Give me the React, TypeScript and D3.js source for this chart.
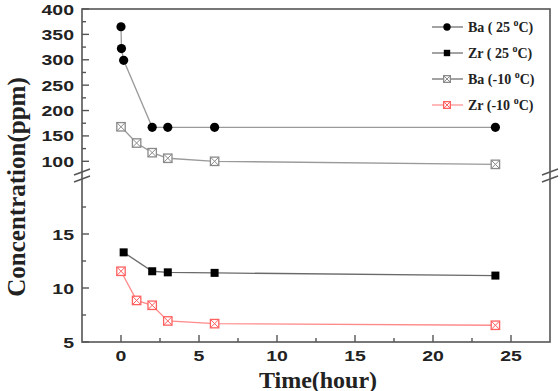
import { useEffect, useRef } from "react";
import * as d3 from "d3";

// Ba (25 °C) — upper panel
const baHotTime = [0, 0.03, 0.17, 2, 3, 6, 24];
const baHotConc = [365, 322, 299, 167, 167, 167, 167];
// Ba (-10 °C) — upper panel
const baColdTime = [0, 1, 2, 3, 6, 24];
const baColdConc = [168, 136, 117, 106, 100, 94];
// Zr (25 °C) — lower panel
const zrHotTime = [0.17, 2, 3, 6, 24];
const zrHotConc = [13.3, 11.55, 11.45, 11.4, 11.15];
// Zr (-10 °C) — lower panel
const zrColdTime = [0, 1, 2, 3, 6, 24];
const zrColdConc = [11.55, 8.85, 8.4, 6.95, 6.7, 6.55];

const xTicks = [0, 5, 10, 15, 20, 25];
const upperTicks = [100, 150, 200, 250, 300, 350, 400];
const lowerTicks = [5, 10, 15];

const legendLabels = [
  { name: "Ba ( 25 ", tail: "C)" },
  { name: "Zr ( 25 ", tail: "C)" },
  { name: "Ba (-10 ", tail: "C)" },
  { name: "Zr (-10 ", tail: "C)" },
];

const W = 560;
const H = 391;
const left = 82;
const right = 550;
const top = 9;
const bottom = 342;

export default function App() {
  const ref = useRef<SVGSVGElement | null>(null);

  useEffect(() => {
    const svg = d3.select(ref.current);
    svg.selectAll("*").remove();

    const x = d3.scaleLinear().domain([-2.5, 27.5]).range([left, right]);
    const yUp = d3.scaleLinear().domain([75, 400]).range([174, top]);
    const yLo = d3.scaleLinear().domain([5, 20]).range([bottom, 180]);

    const axisColor = "#555";
    const tickFont = "'Liberation Sans', Arial, sans-serif";
    const serif = "'Liberation Serif', 'Times New Roman', serif";

    const g = svg.append("g");

    // series definitions
    const series = [
      { t: baHotTime, v: baHotConc, y: yUp, line: "#9a9a9a", color: "#000", shape: "circle" },
      { t: zrHotTime, v: zrHotConc, y: yLo, line: "#6a6a6a", color: "#000", shape: "square" },
      { t: baColdTime, v: baColdConc, y: yUp, line: "#9a9a9a", color: "#8a8a8a", shape: "cross" },
      { t: zrColdTime, v: zrColdConc, y: yLo, line: "#ff8a8a", color: "#ff6060", shape: "cross" },
    ];

    const drawMarker = (sel: any, cx: number, cy: number, s: any, k: number) => {
      if (s.shape === "circle") {
        sel.append("circle").attr("cx", cx).attr("cy", cy).attr("r", 4.6 * k).attr("fill", s.color);
      } else if (s.shape === "square") {
        const h = 4 * k;
        sel.append("rect").attr("x", cx - h).attr("y", cy - h).attr("width", 2 * h).attr("height", 2 * h).attr("fill", s.color);
      } else {
        const h = 4.2 * k;
        sel.append("rect").attr("x", cx - h).attr("y", cy - h).attr("width", 2 * h).attr("height", 2 * h)
          .attr("fill", "#fff").attr("stroke", s.color).attr("stroke-width", 1.3);
        sel.append("path")
          .attr("d", `M${cx - h},${cy - h}L${cx + h},${cy + h}M${cx + h},${cy - h}L${cx - h},${cy + h}`)
          .attr("stroke", s.color).attr("stroke-width", 1);
      }
    };

    series.forEach((s) => {
      const pts = s.t.map((t, i) => [x(t), s.y(s.v[i])] as [number, number]);
      g.append("path")
        .attr("d", d3.line()(pts))
        .attr("fill", "none")
        .attr("stroke", s.line)
        .attr("stroke-width", 1.3);
    });
    series.forEach((s) => {
      s.t.forEach((t, i) => drawMarker(g, x(t), s.y(s.v[i]), s, 1));
    });

    // frame
    svg.append("rect")
      .attr("x", left).attr("y", top)
      .attr("width", right - left).attr("height", bottom - top)
      .attr("fill", "none").attr("stroke", axisColor).attr("stroke-width", 1.6);

    // ticks pointing inward
    const ticks = svg.append("g").attr("stroke", axisColor).attr("stroke-width", 1.4);
    xTicks.forEach((v) => {
      ticks.append("line").attr("x1", x(v)).attr("x2", x(v)).attr("y1", bottom).attr("y2", bottom - 7);
      if (v < 25) ticks.append("line").attr("x1", x(v + 2.5)).attr("x2", x(v + 2.5)).attr("y1", bottom).attr("y2", bottom - 4);
    });
    upperTicks.forEach((v) => {
      ticks.append("line").attr("x1", left).attr("x2", left + 7).attr("y1", yUp(v)).attr("y2", yUp(v));
      if (v < 400) ticks.append("line").attr("x1", left).attr("x2", left + 4).attr("y1", yUp(v + 25)).attr("y2", yUp(v + 25));
    });
    lowerTicks.forEach((v) => {
      ticks.append("line").attr("x1", left).attr("x2", left + 7).attr("y1", yLo(v)).attr("y2", yLo(v));
      ticks.append("line").attr("x1", left).attr("x2", left + 4).attr("y1", yLo(v + 2.5)).attr("y2", yLo(v + 2.5));
    });

    // axis break marks
    const brk = svg.append("g").attr("stroke", axisColor).attr("stroke-width", 1.4);
    [left, right].forEach((bx) => {
      [172, 179].forEach((by) => {
        brk.append("line").attr("x1", bx - 8).attr("y1", by + 3).attr("x2", bx + 8).attr("y2", by - 3);
      });
    });

    // tick labels
    const lab = svg.append("g")
      .attr("font-family", tickFont).attr("font-weight", "bold")
      .attr("font-size", 15).attr("fill", "#222");
    xTicks.forEach((v) => {
      lab.append("text")
        .attr("transform", `translate(${x(v)},${bottom + 19}) scale(1.3,1)`)
        .attr("text-anchor", "middle").text(v);
    });
    upperTicks.forEach((v) => {
      lab.append("text")
        .attr("transform", `translate(${left - 8},${yUp(v) + 5.5}) scale(1.3,1)`)
        .attr("text-anchor", "end").text(v);
    });
    lowerTicks.forEach((v) => {
      lab.append("text")
        .attr("transform", `translate(${left - 8},${yLo(v) + 5.5}) scale(1.3,1)`)
        .attr("text-anchor", "end").text(v);
    });

    // axis titles
    svg.append("text")
      .attr("transform", `translate(25,187) rotate(-90)`)
      .attr("text-anchor", "middle")
      .attr("font-family", serif).attr("font-weight", "bold")
      .attr("font-size", 25).attr("fill", "#222")
      .text("Concentration(ppm)");
    svg.append("text")
      .attr("x", 318).attr("y", 388)
      .attr("text-anchor", "middle")
      .attr("font-family", serif).attr("font-weight", "bold")
      .attr("font-size", 24).attr("fill", "#222")
      .text("Time(hour)");

    // legend
    const leg = svg.append("g");
    legendLabels.forEach((d, i) => {
      const s = series[i];
      const ly = 27 + i * 26;
      leg.append("line").attr("x1", 432).attr("x2", 463).attr("y1", ly).attr("y2", ly)
        .attr("stroke", s.line === "#9a9a9a" || s.line === "#6a6a6a" ? "#666" : s.line).attr("stroke-width", 1.2);
      drawMarker(leg, 447, ly, s, 0.8);
      const txt = leg.append("text")
        .attr("x", 468).attr("y", ly + 5)
        .attr("font-family", serif).attr("font-weight", "bold")
        .attr("font-size", 14).attr("fill", "#222");
      txt.append("tspan").text(d.name);
      txt.append("tspan").attr("dy", -6).attr("font-size", 10).text("o");
      txt.append("tspan").attr("dy", 6).text(d.tail);
    });
  }, []);

  return (
    <svg
      ref={ref}
      width={W}
      height={H}
      style={{ position: "absolute", left: 0, top: 0, background: "#fff" }}
    />
  );
}
